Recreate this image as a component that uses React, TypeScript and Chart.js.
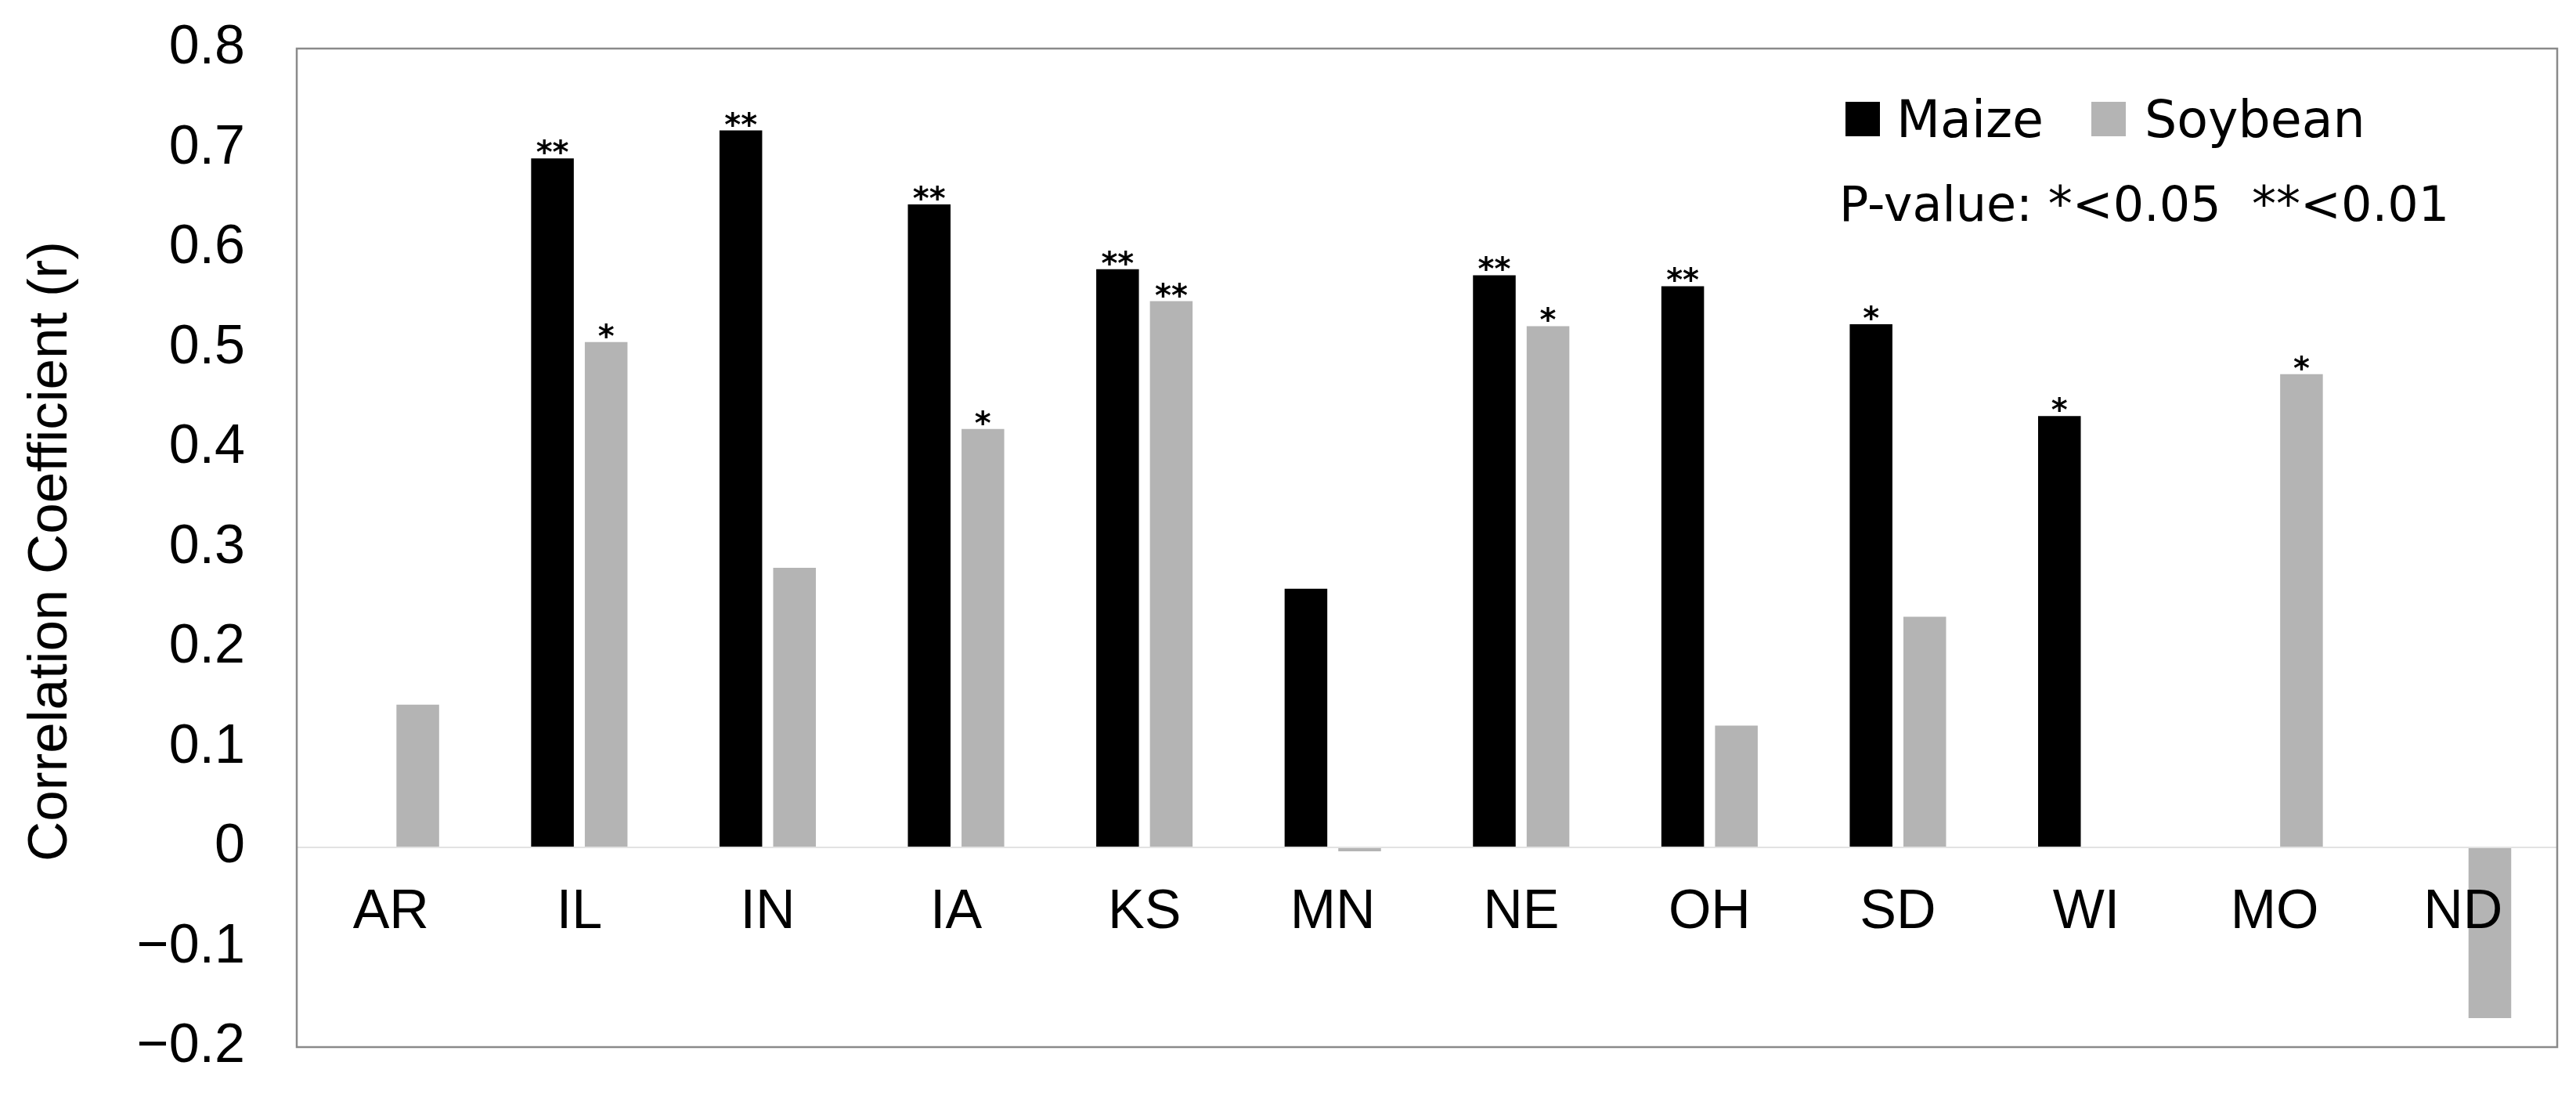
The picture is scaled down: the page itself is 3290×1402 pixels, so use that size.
import React, { useEffect, useRef } from 'react';
import { Chart, registerables } from 'chart.js';

Chart.register(...registerables);

const states = ['AR', 'IL', 'IN', 'IA', 'KS', 'MN', 'NE', 'OH', 'SD', 'WI', 'MO', 'ND'];
const maizeValues = [null, 0.69, 0.718, 0.644, 0.579, 0.259, 0.573, 0.562, 0.524, 0.432, null, null];
const soybeanValues = [0.143, 0.506, 0.28, 0.419, 0.547, -0.004, 0.522, 0.122, 0.231, null, 0.474, -0.171];
const maizeSig = ['', '**', '**', '**', '**', '', '**', '**', '*', '*', '', ''];
const soybeanSig = ['', '*', '', '*', '**', '', '*', '', '', '', '*', ''];
const seriesNames = ['Maize', 'Soybean'];
const seriesColors = ['#000000', '#b4b4b4'];
const yMin = -0.2;
const yMax = 0.8;
const yStep = 0.1;
const yTitle = 'Correlation Coefficient (r)';
const pValueNote = 'P-value: *<0.05  **<0.01';

const AXIS_FONT = '"Liberation Sans", Arial, sans-serif';
const LEGEND_FONT = '"DejaVu Sans", sans-serif';

const overlayPlugin = {
  id: 'overlay',
  afterDatasetsDraw(chart: any) {
    const { ctx, chartArea: a } = chart;
    ctx.save();

    // significance stars above bars
    const sigs = [maizeSig, soybeanSig];
    ctx.font = `bold 40px ${LEGEND_FONT}`;
    ctx.textAlign = 'center';
    ctx.textBaseline = 'alphabetic';
    ctx.fillStyle = '#000';
    chart.data.datasets.forEach((_ds: any, di: number) => {
      const meta = chart.getDatasetMeta(di);
      meta.data.forEach((bar: any, i: number) => {
        const s = sigs[di][i];
        if (!s || !isFinite(bar.y)) return;
        ctx.fillText(s, bar.x, bar.y + 6);
      });
    });

    // legend
    const boxSize = 44;
    const legendItems = [
      { x: 2357, textX: 2422 },
      { x: 2671, textX: 2739 },
    ];
    ctx.font = `65px ${LEGEND_FONT}`;
    ctx.textAlign = 'left';
    ctx.textBaseline = 'alphabetic';
    chart.data.datasets.forEach((ds: any, di: number) => {
      const it = legendItems[di];
      ctx.fillStyle = ds.backgroundColor;
      ctx.fillRect(it.x, 130, boxSize, boxSize);
      ctx.fillStyle = '#000';
      ctx.fillText(ds.label, it.textX, 175);
    });
    ctx.font = `62px ${LEGEND_FONT}`;
    ctx.fillText(pValueNote, 2349, 282);

    // plot frame
    ctx.strokeStyle = '#8a8a8a';
    ctx.lineWidth = 2.5;
    ctx.strokeRect(a.left, a.top, a.right - a.left, a.bottom - a.top);

    // y axis title
    ctx.translate(85, 704);
    ctx.rotate(-Math.PI / 2);
    ctx.font = `71px ${AXIS_FONT}`;
    ctx.textAlign = 'center';
    ctx.textBaseline = 'alphabetic';
    ctx.fillStyle = '#000';
    ctx.fillText(yTitle, 0, 0);

    ctx.restore();
  },
};

function formatTick(v: number): string {
  const r = Math.round(v * 10) / 10;
  if (r === 0) return '0';
  const s = Math.abs(r).toFixed(1);
  return r < 0 ? '\u2212' + s : s;
}

export default function App() {
  const canvasRef = useRef<HTMLCanvasElement | null>(null);

  useEffect(() => {
    document.body.style.margin = '0';
    const canvas = canvasRef.current;
    if (!canvas) return;
    const chart = new Chart(canvas, {
      type: 'bar',
      data: {
        labels: states,
        datasets: [
          {
            label: seriesNames[0],
            data: maizeValues as any,
            backgroundColor: seriesColors[0],
            borderWidth: 0,
            categoryPercentage: 0.57,
            barPercentage: 0.795,
          },
          {
            label: seriesNames[1],
            data: soybeanValues as any,
            backgroundColor: seriesColors[1],
            borderWidth: 0,
            categoryPercentage: 0.57,
            barPercentage: 0.795,
          },
        ],
      },
      options: {
        responsive: false,
        animation: false,
        devicePixelRatio: 1,
        layout: { padding: { top: 62, right: 24, bottom: 65, left: 0 } },
        plugins: {
          legend: { display: false },
          tooltip: { enabled: false },
          title: { display: false },
        },
        scales: {
          x: {
            type: 'category',
            position: { y: 0 } as any,
            grid: { display: false, drawTicks: false },
            border: { display: false },
            ticks: {
              z: 1,
              color: '#000',
              font: { family: AXIS_FONT, size: 70 },
              padding: 42,
              autoSkip: false,
              maxRotation: 0,
              minRotation: 0,
            } as any,
            afterFit: (s: any) => {
              s.height = 0;
              s.paddingLeft = 0;
              s.paddingRight = 0;
            },
          },
          y: {
            min: yMin,
            max: yMax,
            grid: {
              display: true,
              drawTicks: false,
              lineWidth: 2,
              color: (c: any) =>
                c.tick && Math.abs(c.tick.value) < 1e-9 ? '#e2e2e2' : 'rgba(0,0,0,0)',
            },
            border: { display: false },
            ticks: {
              stepSize: yStep,
              color: '#000',
              font: { family: AXIS_FONT, size: 70 },
              padding: 66,
              callback: (v: any) => formatTick(Number(v)),
            },
            afterFit: (s: any) => {
              s.width = 379;
              s.paddingTop = 0;
              s.paddingBottom = 0;
            },
          },
        },
      },
      plugins: [overlayPlugin],
    });
    return () => chart.destroy();
  }, []);

  return (
    <div style={{ position: 'fixed', left: 0, top: 0, width: 3290, height: 1402, background: '#fff' }}>
      <canvas ref={canvasRef} width={3290} height={1402} style={{ width: 3290, height: 1402, display: 'block' }} />
    </div>
  );
}
